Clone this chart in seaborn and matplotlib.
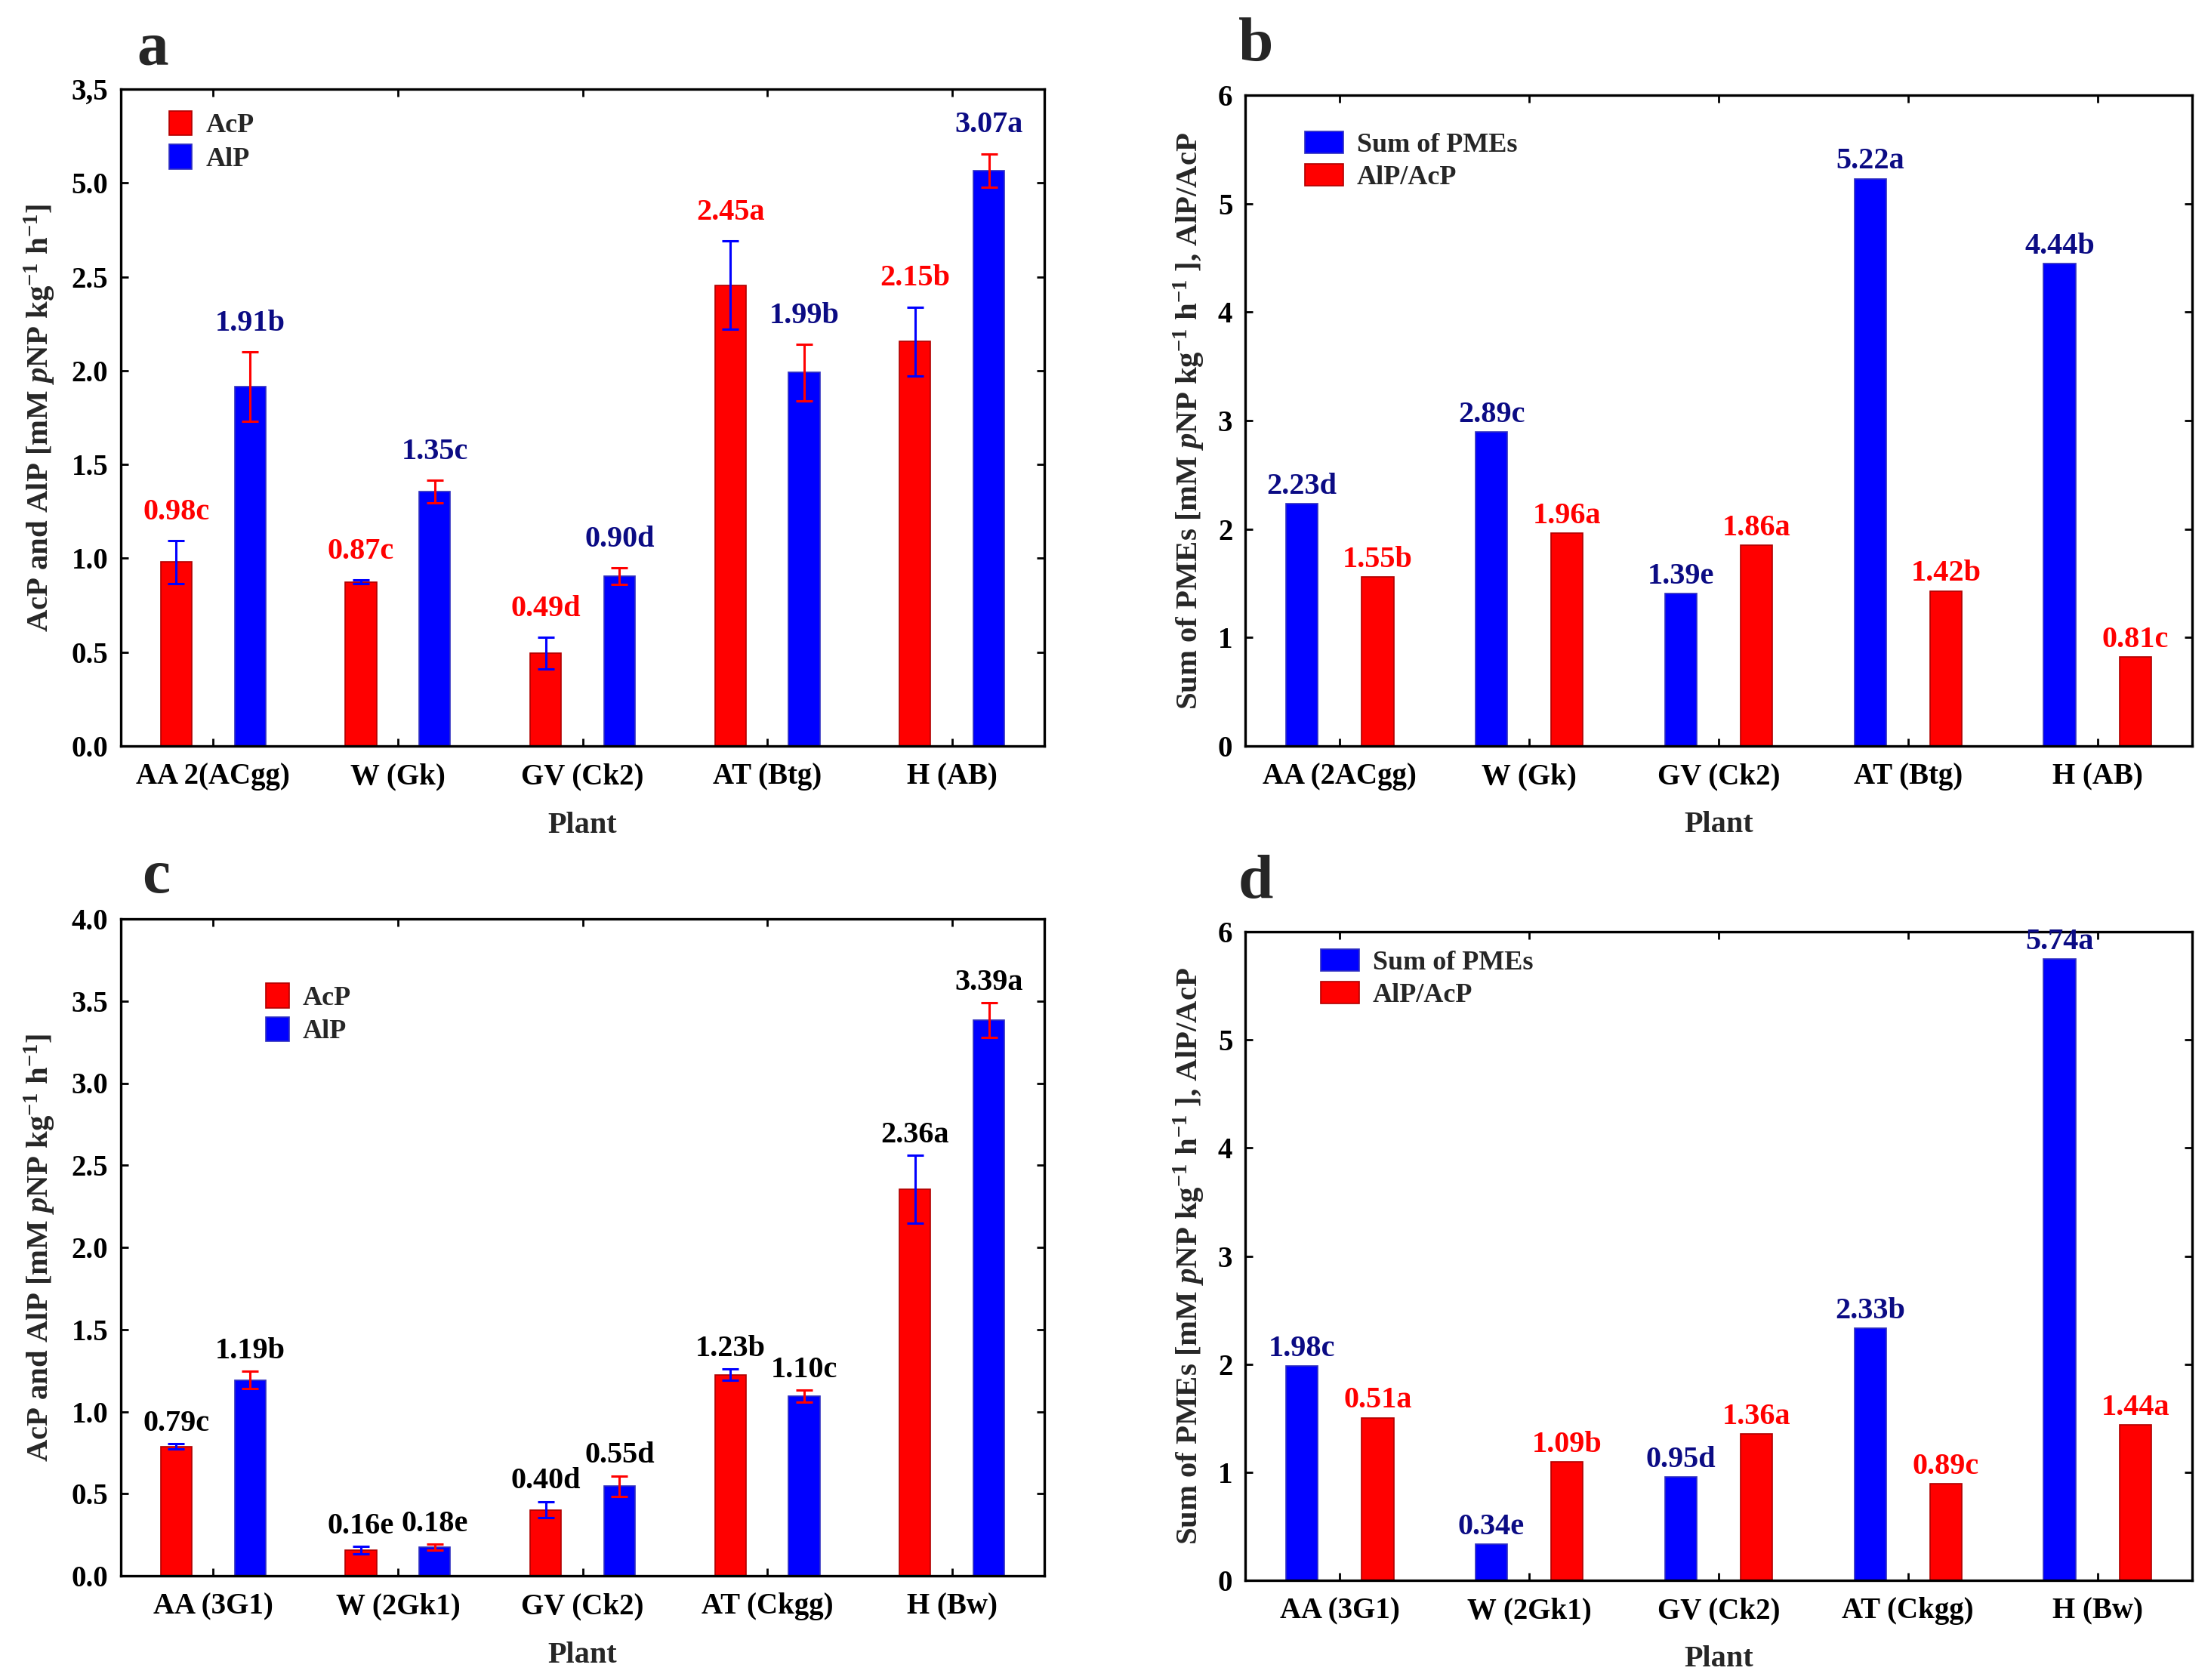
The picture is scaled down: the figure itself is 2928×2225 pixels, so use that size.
import numpy as np
import pandas as pd
import matplotlib.pyplot as plt
import seaborn as sns

RED = "#ff0000"
BLUE = "#0000ff"
NAVY = "#0b0b84"

# panel a
plants_a = ["AA 2(ACgg)", "W (Gk)", "GV (Ck2)", "AT (Btg)", "H (AB)"]
acp_a = [0.98, 0.875, 0.495, 2.455, 2.155]
acp_err_a = [0.114, 0.01, 0.084, 0.235, 0.184]
alp_a = [1.915, 1.355, 0.905, 1.99, 3.067]
alp_err_a = [0.185, 0.06, 0.043, 0.15, 0.088]
acp_lab_a = ["0.98c", "0.87c", "0.49d", "2.45a", "2.15b"]
alp_lab_a = ["1.91b", "1.35c", "0.90d", "1.99b", "3.07a"]
yticks_a = [0, 0.5, 1.0, 1.5, 2.0, 2.5, 3.0, 3.5]
yticklabels_a = ["0.0", "0.5", "1.0", "1.5", "2.0", "2.5", "5.0", "3,5"]

# panel b
plants_b = ["AA (2ACgg)", "W (Gk)", "GV (Ck2)", "AT (Btg)", "H (AB)"]
pme_b = [2.235, 2.895, 1.405, 5.23, 4.45]
ratio_b = [1.56, 1.965, 1.85, 1.43, 0.82]
pme_lab_b = ["2.23d", "2.89c", "1.39e", "5.22a", "4.44b"]
ratio_lab_b = ["1.55b", "1.96a", "1.86a", "1.42b", "0.81c"]

# panel c
plants_c = ["AA (3G1)", "W (2Gk1)", "GV (Ck2)", "AT (Ckgg)", "H (Bw)"]
acp_c = [0.788, 0.157, 0.402, 1.225, 2.353]
acp_err_c = [0.017, 0.023, 0.05, 0.033, 0.207]
alp_c = [1.193, 0.173, 0.546, 1.095, 3.382]
alp_err_c = [0.053, 0.018, 0.062, 0.036, 0.106]
acp_lab_c = ["0.79c", "0.16e", "0.40d", "1.23b", "2.36a"]
alp_lab_c = ["1.19b", "0.18e", "0.55d", "1.10c", "3.39a"]
yticks_c = [0, 0.5, 1.0, 1.5, 2.0, 2.5, 3.0, 3.5, 4.0]

# panel d
plants_d = ["AA (3G1)", "W (2Gk1)", "GV (Ck2)", "AT (Ckgg)", "H (Bw)"]
pme_d = [1.985, 0.337, 0.955, 2.33, 5.75]
ratio_d = [1.505, 1.094, 1.356, 0.891, 1.436]
pme_lab_d = ["1.98c", "0.34e", "0.95d", "2.33b", "5.74a"]
ratio_lab_d = ["0.51a", "1.09b", "1.36a", "0.89c", "1.44a"]

enz_names = ["AcP", "AlP"]
pme_names = ["Sum of PMEs", "AlP/AcP"]

sns.set_style("ticks")
plt.rcParams["font.family"] = ["Liberation Serif", "DejaVu Serif"]
plt.rcParams["font.weight"] = "bold"
plt.rcParams["axes.labelweight"] = "bold"
plt.rcParams["mathtext.fontset"] = "custom"
plt.rcParams["mathtext.rm"] = "Liberation Serif:bold"
plt.rcParams["mathtext.bf"] = "Liberation Serif:bold"
plt.rcParams["mathtext.it"] = "Liberation Serif:bold:italic"

EDGE = {RED: "#b00000", BLUE: "#3030c0"}


def bar_panel(ax, plants, first, second, names, colors, labels, label_colors,
              errs=None, err_colors=None, label_pad=2.0):
    df = pd.DataFrame({
        "Plant": plants * 2,
        "Series": [names[0]] * len(plants) + [names[1]] * len(plants),
        "Value": list(first) + list(second),
    })
    sns.barplot(data=df, x="Plant", y="Value", hue="Series", hue_order=names,
                palette=dict(zip(names, colors)), width=0.8, gap=0.58,
                errorbar=None, saturation=1, linewidth=0.6, legend=False, ax=ax)
    bars = list(ax.containers[:2])
    for i, cont in enumerate(bars):
        for p in cont:
            p.set_edgecolor(EDGE[colors[i]])
        xs = np.array([p.get_x() + p.get_width() / 2 for p in cont])
        hs = np.array([p.get_height() for p in cont])
        tops = hs.copy()
        if errs is not None:
            e = np.array(errs[i])
            ax.errorbar(xs, hs, yerr=e, fmt="none", ecolor=err_colors[i],
                        elinewidth=1.1, capsize=4, capthick=1.1, zorder=4)
            tops = hs + e
        for x, t, s in zip(xs, tops, labels[i]):
            ax.annotate(s, (x, t), xytext=(0, label_pad), textcoords="offset points",
                        ha="center", va="bottom", color=label_colors[i],
                        fontsize=14.5, fontweight="bold")
    for sp in ax.spines.values():
        sp.set_visible(True)
        sp.set_linewidth(1.2)
        sp.set_color("black")
    ax.tick_params(direction="in", top=True, right=True, length=3.5, width=1,
                   labelsize=14, colors="black")
    ax.tick_params(axis="x", pad=8)
    ax.tick_params(axis="y", pad=6)
    ax.set_xlim(-0.5, len(plants) - 0.5)
    ax.set_xlabel("Plant", fontsize=14.5, fontweight="bold")
    ax.xaxis.set_label_coords(0.5, -0.1)
    return bars


W, H = 2928, 2225
fig = plt.figure(figsize=(W / 200, H / 200), dpi=200)


def px_axes(left, top, right, bottom):
    return fig.add_axes([left / W, 1 - bottom / H, (right - left) / W, (bottom - top) / H])


ax_a = px_axes(160, 118, 1383, 988)
ax_b = px_axes(1649, 126, 2903, 988)
ax_c = px_axes(160, 1217, 1383, 2087)
ax_d = px_axes(1649, 1234, 2903, 2093)

leg_kw = dict(loc="upper left", frameon=False, borderaxespad=0, borderpad=0,
              handletextpad=0.5, labelspacing=0.22, fontsize=13)

# a
bars = bar_panel(ax_a, plants_a, acp_a, alp_a, enz_names, [RED, BLUE],
                 [acp_lab_a, alp_lab_a], [RED, NAVY],
                 errs=[acp_err_a, alp_err_a], err_colors=[BLUE, RED], label_pad=7)
ax_a.set_ylim(0, 3.5)
ax_a.set_yticks(yticks_a)
ax_a.set_yticklabels(yticklabels_a)
ax_a.set_ylabel(r"AcP and AlP [mM $p$NP kg$^{-1}$ h$^{-1}$]", fontsize=14.7)
ax_a.yaxis.set_label_coords(-0.069, 0.5)
ax_a.legend(handles=bars, labels=enz_names, bbox_to_anchor=(0.052, 0.967),
            handlelength=0.85, handleheight=1.0, **leg_kw)

# b
bars = bar_panel(ax_b, plants_b, pme_b, ratio_b, pme_names, [BLUE, RED],
                 [pme_lab_b, ratio_lab_b], [NAVY, RED], label_pad=1.5)
ax_b.set_ylim(0, 6)
ax_b.set_yticks(range(7))
ax_b.set_ylabel(r"Sum of PMEs [mM $p$NP kg$^{-1}$ h$^{-1}$ ], AlP/AcP", fontsize=14.7)
ax_b.yaxis.set_label_coords(-0.041, 0.5)
ax_b.legend(handles=bars, labels=pme_names, bbox_to_anchor=(0.063, 0.944),
            handlelength=1.4, handleheight=0.85, **leg_kw)

# c
bars = bar_panel(ax_c, plants_c, acp_c, alp_c, enz_names, [RED, BLUE],
                 [acp_lab_c, alp_lab_c], ["black", "black"],
                 errs=[acp_err_c, alp_err_c], err_colors=[BLUE, RED], label_pad=3)
ax_c.set_ylim(0, 4)
ax_c.set_yticks(yticks_c)
ax_c.set_yticklabels([f"{v:.1f}" for v in yticks_c])
ax_c.set_ylabel(r"AcP and AlP [mM $p$NP kg$^{-1}$ h$^{-1}$]", fontsize=14.7)
ax_c.yaxis.set_label_coords(-0.069, 0.5)
ax_c.legend(handles=bars, labels=enz_names, bbox_to_anchor=(0.157, 0.902),
            handlelength=0.85, handleheight=1.0, **leg_kw)

# d
bars = bar_panel(ax_d, plants_d, pme_d, ratio_d, pme_names, [BLUE, RED],
                 [pme_lab_d, ratio_lab_d], [NAVY, RED], label_pad=1.5)
ax_d.set_ylim(0, 6)
ax_d.set_yticks(range(7))
ax_d.set_ylabel(r"Sum of PMEs [mM $p$NP kg$^{-1}$ h$^{-1}$ ], AlP/AcP", fontsize=14.7)
ax_d.yaxis.set_label_coords(-0.041, 0.5)
ax_d.legend(handles=bars, labels=pme_names, bbox_to_anchor=(0.08, 0.973),
            handlelength=1.4, handleheight=0.85, **leg_kw)

# panel letters
for letter, (lx, ly) in zip("abcd", [(181, 85), (1640, 80), (188, 1182), (1640, 1189)]):
    fig.text(lx / W, 1 - ly / H, letter, fontsize=30, fontweight="bold",
             ha="left", va="baseline")

fig.savefig("out.png", dpi=200)
